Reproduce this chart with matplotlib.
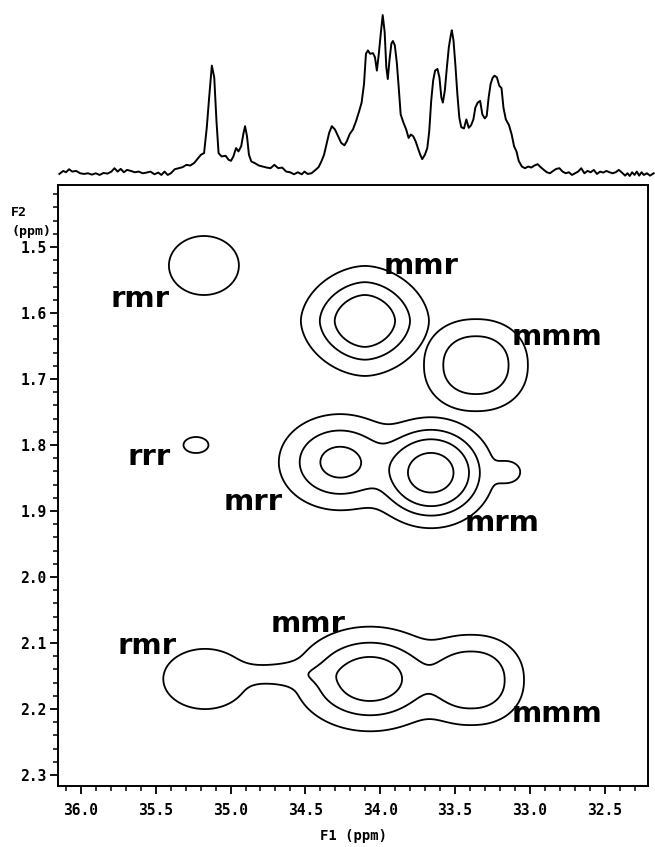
import numpy as np
import matplotlib
matplotlib.use("Agg")
import matplotlib.pyplot as plt
from matplotlib.ticker import MultipleLocator, FixedLocator

# ---------------- 1D projection spectrum (F1 axis, ppm vs. intensity) ----------------
spec_ppm = [36.144, 36.118, 36.100, 36.079, 36.058, 36.032, 36.005, 35.979, 35.953, 35.927,
            35.901, 35.875, 35.849, 35.823, 35.796, 35.776, 35.755, 35.734, 35.713, 35.692,
            35.666, 35.640, 35.614, 35.587, 35.561, 35.535, 35.509, 35.483, 35.462, 35.441,
            35.420, 35.399, 35.373, 35.347, 35.321, 35.295, 35.269, 35.242, 35.216, 35.198,
            35.177, 35.159, 35.143, 35.125, 35.109, 35.094, 35.080, 35.060, 35.033, 35.013,
            34.997, 34.981, 34.963, 34.947, 34.929, 34.913, 34.903, 34.890, 34.877, 34.861,
            34.837, 34.811, 34.785, 34.759, 34.733, 34.707, 34.681, 34.655, 34.628, 34.602,
            34.576, 34.550, 34.524, 34.506, 34.485, 34.459, 34.432, 34.412, 34.393, 34.375,
            34.359, 34.341, 34.323, 34.302, 34.281, 34.260, 34.239, 34.223, 34.203, 34.182,
            34.161, 34.140, 34.124, 34.108, 34.095, 34.082, 34.067, 34.048, 34.035, 34.022,
            34.009, 33.996, 33.983, 33.970, 33.959, 33.949, 33.938, 33.925, 33.915, 33.902,
            33.889, 33.876, 33.863, 33.844, 33.826, 33.810, 33.795, 33.779, 33.763, 33.748,
            33.732, 33.719, 33.701, 33.685, 33.672, 33.659, 33.646, 33.633, 33.617, 33.604,
            33.591, 33.581, 33.568, 33.554, 33.541, 33.528, 33.521, 33.510, 33.497, 33.484,
            33.471, 33.458, 33.440, 33.424, 33.408, 33.392, 33.377, 33.364, 33.348, 33.332,
            33.317, 33.301, 33.288, 33.275, 33.262, 33.249, 33.236, 33.220, 33.204, 33.189,
            33.176, 33.160, 33.139, 33.121, 33.105, 33.089, 33.074, 33.053, 33.032, 33.011,
            32.990, 32.969, 32.948, 32.927, 32.906, 32.886, 32.865, 32.844, 32.823, 32.802,
            32.781, 32.760, 32.739, 32.718, 32.697, 32.677, 32.656, 32.635, 32.614, 32.593,
            32.572, 32.551, 32.530, 32.509, 32.488, 32.468, 32.447, 32.426, 32.405, 32.384,
            32.363, 32.347, 32.332, 32.316, 32.300, 32.285, 32.269, 32.253, 32.238, 32.217,
            32.196, 32.172]
spec_int = [-2, 7, 3, 12, 5, 7, 0, -2, 0, -4,
            0, -5, 1, -1, 5, 15, 5, 13, 3, 10,
            7, 3, 5, 0, 2, 5, -3, 2, -5, 5,
            -5, 0, 12, 15, 18, 25, 23, 31, 45, 55,
            60, 135, 225, 320, 285, 155, 60, 50, 52, 40,
            37, 50, 75, 65, 80, 120, 140, 110, 55, 35,
            30, 23, 20, 17, 15, 25, 15, 17, 5, 3,
            -3, 3, -3, 5, -2, 0, 10, 18, 35, 55,
            85, 120, 140, 130, 110, 90, 83, 95, 117, 130,
            155, 185, 210, 265, 355, 365, 355, 357, 345, 305,
            355, 415, 470, 420, 315, 280, 335, 385, 393, 380,
            330, 255, 175, 150, 130, 105, 115, 110, 95, 75,
            55, 42, 55, 75, 125, 215, 275, 305, 310, 285,
            225, 210, 245, 315, 375, 410, 425, 395, 320, 235,
            165, 137, 133, 160, 135, 143, 160, 195, 210, 215,
            175, 163, 170, 225, 265, 283, 290, 285, 260, 253,
            195, 160, 143, 115, 80, 65, 37, 20, 15, 20,
            17, 23, 27, 18, 10, 3, 0, 7, 13, 15,
            5, 0, 3, -5, 0, 5, 15, 0, 7, 3,
            10, -2, 5, 2, 7, 3, 0, 3, 10, 2,
            -7, 0, -8, 3, -5, 5, -7, 3, -5, 0,
            -7, 0]

# ---------------- 2D contour peaks (F1 ppm, F2 ppm, widths, height, shape) ----------------
peak_name  = ["rmr", "mmr", "mmm", "rrr", "mrr", "mrm", "mrm-tail", "rmr", "rmr-mmr", "mmr", "mmm"]
peak_group = [0, 1, 2, 3, 4, 4, 4, 5, 5, 5, 5]
peak_f1    = [35.178, 34.102, 33.360, 35.231, 34.269, 33.660, 33.146, 35.171, 34.603, 34.068, 33.386]
peak_f2    = [1.528, 1.612, 1.679, 1.800, 1.826, 1.842, 1.841, 2.1545, 2.147, 2.1545, 2.156]
peak_w1    = [0.341, 0.344, 0.335, 0.223, 0.369, 0.321, 0.126, 0.406, 0.426, 0.434, 0.335]
peak_w2    = [0.0652, 0.0670, 0.0673, 0.0324, 0.0658, 0.0640, 0.0236, 0.0665, 0.0215, 0.0686, 0.0658]
peak_amp   = [1.6, 4.4, 2.95, 1.15, 3.4, 5.6, 1.5, 1.6, 1.4, 3.8, 2.95]
peak_shape = [2, 1.8, 2.2, 2, 2, 2, 2, 2, 2, 2, 2.2]
contour_levels = [1.0, 2.0, 3.0, 4.5]

# ---------------- annotations ----------------
label_text = ["rmr", "mmr", "mmm", "rrr", "mrr", "mrm", "rmr", "mmr", "mmm"]
label_f1   = [35.606, 33.727, 32.818, 35.545, 34.850, 33.186, 35.559, 34.479, 32.818]
label_f2   = [1.579, 1.529, 1.636, 1.818, 1.886, 1.918, 2.105, 2.071, 2.208]

f1_ticks = [36.0, 35.5, 35.0, 34.5, 34.0, 33.5, 33.0, 32.5]
f2_ticks = [1.5, 1.6, 1.7, 1.8, 1.9, 2.0, 2.1, 2.2, 2.3]
f1_lim = (36.156, 32.21)
f2_lim = (2.3167, 1.406)

mono = "DejaVu Sans Mono"

fig = plt.figure(figsize=(6.55, 8.47), dpi=100)
fig.patch.set_facecolor("white")

ax = fig.add_axes([0.0879, 0.0720, 0.9014, 0.7096])
ax_s = fig.add_axes([0.0879, 0.7851, 0.9014, 0.2090])

# ---- contour field built from the peak table ----
gx = np.linspace(f1_lim[0], f1_lim[1], 800)
gy = np.linspace(f2_lim[1], f2_lim[0], 800)
GX, GY = np.meshgrid(gx, gy)
group_sum = {}
for g, x0, y0, w1, w2, a, p in zip(peak_group, peak_f1, peak_f2, peak_w1, peak_w2, peak_amp, peak_shape):
    term = a * np.exp(-(np.abs((GX - x0) / w1) ** p + np.abs((GY - y0) / w2) ** p))
    group_sum[g] = group_sum.get(g, 0) + term ** 2
field = np.max(np.stack([np.sqrt(v) for v in group_sum.values()]), axis=0)

ax.contour(GX, GY, field, levels=contour_levels, colors="black", linewidths=1.3)

for t, x, y in zip(label_text, label_f1, label_f2):
    ax.text(x, y, t, ha="center", va="center", fontsize=21, fontweight="bold",
            family="DejaVu Sans", color="black")

ax.set_xlim(*f1_lim)
ax.set_ylim(*f2_lim)
ax.xaxis.set_major_locator(FixedLocator(f1_ticks))
ax.xaxis.set_minor_locator(MultipleLocator(0.1))
ax.yaxis.set_major_locator(FixedLocator(f2_ticks))
ax.yaxis.set_minor_locator(MultipleLocator(0.02))
ax.set_xticklabels([f"{v:.1f}" for v in f1_ticks])
ax.set_yticklabels([f"{v:.1f}" for v in f2_ticks])
ax.tick_params(axis="both", which="major", direction="out", length=6, width=1.3,
               labelsize=10.5, pad=4, colors="black")
ax.tick_params(axis="both", which="minor", direction="out", length=3.5, width=1.1)
ax.tick_params(axis="x", which="major", pad=6)
ax.tick_params(axis="y", which="major", pad=2)
for lab in ax.get_xticklabels() + ax.get_yticklabels():
    lab.set_family(mono)
    lab.set_fontweight("bold")
for sp in ax.spines.values():
    sp.set_linewidth(1.4)
    sp.set_color("black")

fig.text(0.017, 1 - 212 / 847, "F2", fontsize=9.5, fontweight="bold", family=mono,
         ha="left", va="center")
fig.text(0.017, 1 - 231 / 847, "(ppm)", fontsize=9.5, fontweight="bold", family=mono,
         ha="left", va="center")
fig.text(0.540, 1 - 836 / 847, "F1 (ppm)", fontsize=10, fontweight="bold", family=mono,
         ha="center", va="center")

# ---- projection spectrum ----
ax_s.plot(spec_ppm, spec_int, color="black", lw=1.4, clip_on=False)
ax_s.set_xlim(*f1_lim)
ax_s.set_ylim(-26, 500)
ax_s.axis("off")

fig.savefig("out.png", dpi=100, facecolor="white")
